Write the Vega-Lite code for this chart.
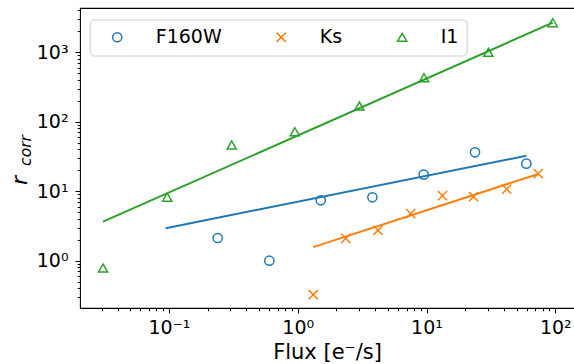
{
  "$schema": "https://vega.github.io/schema/vega-lite/v6.json",
  "width": 494,
  "height": 300,
  "autosize": {"type": "none"},
  "padding": {"left": 80, "top": 8, "right": 0, "bottom": 56},
  "background": "white",
  "config": {
    "view": {"stroke": "black", "strokeWidth": 1.1, "strokeDash": [494, 300, 794, 0]},
    "font": "DejaVu Sans",
    "legend": {
      "labelFont": "DejaVu Sans", "labelFontSize": 19, "labelColor": "black",
      "symbolOffset": 10, "labelOffset": 29, "columnPadding": 40, "padding": 8, "rowPadding": 0,
      "fillColor": "rgba(255,255,255,0.8)", "strokeColor": "#cccccc", "cornerRadius": 4,
      "symbolSize": 85, "symbolStrokeWidth": 1.5
    }
  },
  "datasets": {
    "points": [
      {"band": "I1", "flux": 0.0308, "r": 0.785},
      {"band": "I1", "flux": 0.097, "r": 8.2},
      {"band": "I1", "flux": 0.307, "r": 46.2},
      {"band": "I1", "flux": 0.95, "r": 71.8},
      {"band": "I1", "flux": 3.01, "r": 168},
      {"band": "I1", "flux": 9.56, "r": 430},
      {"band": "I1", "flux": 30.2, "r": 997},
      {"band": "I1", "flux": 95.5, "r": 2657},
      {"band": "F160W", "flux": 0.239, "r": 2.12},
      {"band": "F160W", "flux": 0.602, "r": 1.0},
      {"band": "F160W", "flux": 1.51, "r": 7.4},
      {"band": "F160W", "flux": 3.8, "r": 8.17},
      {"band": "F160W", "flux": 9.51, "r": 17.3},
      {"band": "F160W", "flux": 23.8, "r": 36.3},
      {"band": "F160W", "flux": 59.6, "r": 24.9},
      {"band": "Ks", "flux": 1.32, "r": 0.324},
      {"band": "Ks", "flux": 2.36, "r": 2.1},
      {"band": "Ks", "flux": 4.2, "r": 2.74},
      {"band": "Ks", "flux": 7.54, "r": 4.75},
      {"band": "Ks", "flux": 13.3, "r": 8.62},
      {"band": "Ks", "flux": 23.2, "r": 8.33},
      {"band": "Ks", "flux": 42, "r": 10.7},
      {"band": "Ks", "flux": 73.8, "r": 17.9}
    ],
    "fits": [
      {"band": "I1", "flux": 0.0308, "r": 3.64},
      {"band": "I1", "flux": 95.5, "r": 2660},
      {"band": "F160W", "flux": 0.0944, "r": 2.93},
      {"band": "F160W", "flux": 59.6, "r": 32.4},
      {"band": "Ks", "flux": 1.32, "r": 1.57},
      {"band": "Ks", "flux": 73.8, "r": 17.7}
    ]
  },
  "layer": [
    {
      "data": {"name": "points"},
      "mark": {"type": "point", "filled": false, "strokeWidth": 1.5, "size": 85, "opacity": 1},
      "encoding": {
        "x": {
          "field": "flux", "type": "quantitative",
          "scale": {"type": "log", "domain": [0.0204, 139.7], "nice": false},
          "axis": {
            "orient": "bottom",
            "values": [0.03, 0.04, 0.05, 0.06, 0.07, 0.08, 0.09, 0.1, 0.2, 0.3, 0.4, 0.5, 0.6, 0.7, 0.8, 0.9, 1, 2, 3, 4, 5, 6, 7, 8, 9, 10, 20, 30, 40, 50, 60, 70, 80, 90, 100],
            "labelExpr": "datum.value == 0.1 ? '10⁻¹' : datum.value == 1 ? '10⁰' : datum.value == 10 ? '10¹' : datum.value == 100 ? '10²' : ''",
            "tickSize": {"condition": {"test": "datum.value == 0.1 || datum.value == 1 || datum.value == 10 || datum.value == 100", "value": 5}, "value": 2.8},
            "tickColor": "black", "tickWidth": 1,
            "domain": false,
            "grid": false,
            "labelFont": "DejaVu Sans", "labelFontSize": 19, "labelColor": "black",
            "labelBaseline": "alphabetic", "labelPadding": 20, "labelFlush": false, "labelOverlap": false,
            "title": "Flux [e⁻/s]", "titleFont": "DejaVu Sans", "titleFontSize": 21, "titleFontWeight": "normal", "titleColor": "black",
            "titleBaseline": "alphabetic", "titleY": 50, "titleX": 247
          }
        },
        "y": {
          "field": "r", "type": "quantitative",
          "scale": {"type": "log", "domain": [0.2086, 4325], "nice": false},
          "axis": {
            "orient": "left",
            "values": [0.3, 0.4, 0.5, 0.6, 0.7, 0.8, 0.9, 1, 2, 3, 4, 5, 6, 7, 8, 9, 10, 20, 30, 40, 50, 60, 70, 80, 90, 100, 200, 300, 400, 500, 600, 700, 800, 900, 1000, 2000, 3000, 4000],
            "labelExpr": "datum.value == 1 ? '10⁰' : datum.value == 10 ? '10¹' : datum.value == 100 ? '10²' : datum.value == 1000 ? '10³' : ''",
            "tickSize": {"condition": {"test": "datum.value == 1 || datum.value == 10 || datum.value == 100 || datum.value == 1000", "value": 5}, "value": 2.8},
            "tickColor": "black", "tickWidth": 1,
            "domain": false,
            "grid": false,
            "labelFont": "DejaVu Sans", "labelFontSize": 19, "labelColor": "black",
            "labelPadding": 7, "labelFlush": false, "labelOverlap": false,
            "title": "r", "titleFont": "DejaVu Sans", "titleFontSize": 22, "titleFontStyle": "italic", "titleFontWeight": "normal", "titleColor": "black",
            "titleAngle": -90, "titleBaseline": "alphabetic", "titleAlign": "center", "titleX": -54, "titleY": 172
          }
        },
        "color": {
          "field": "band", "type": "nominal",
          "scale": {"domain": ["F160W", "Ks", "I1"], "range": ["#1f77b4", "#ff7f0e", "#2ca02c"]},
          "legend": {"orient": "none", "legendX": 9.7, "legendY": 11.5, "direction": "horizontal", "columns": 3, "title": null}
        },
        "shape": {
          "field": "band", "type": "nominal",
          "scale": {"domain": ["F160W", "Ks", "I1"], "range": ["circle", "M-1,-1L1,1M-1,1L1,-1", "triangle-up"]},
          "legend": {"orient": "none", "legendX": 9.7, "legendY": 11.5, "direction": "horizontal", "columns": 3, "title": null}
        }
      }
    },
    {
      "data": {"name": "fits"},
      "mark": {"type": "line", "strokeWidth": 2},
      "encoding": {
        "x": {"field": "flux", "type": "quantitative"},
        "y": {
          "field": "r", "type": "quantitative",
          "axis": {"orient": "left", "labels": false, "ticks": false, "grid": false, "domain": false, "title": "corr", "titleFont": "DejaVu Sans", "titleFontSize": 15.5, "titleFontStyle": "italic", "titleFontWeight": "normal", "titleColor": "black", "titleAngle": -90, "titleBaseline": "alphabetic", "titleAlign": "center", "titleX": -50, "titleY": 142}
        },
        "stroke": {
          "field": "band", "type": "nominal",
          "scale": {"domain": ["F160W", "Ks", "I1"], "range": ["#1f77b4", "#ff7f0e", "#2ca02c"]},
          "legend": null
        }
      }
    }
  ],
  "resolve": {"axis": {"y": "independent"}}
}
